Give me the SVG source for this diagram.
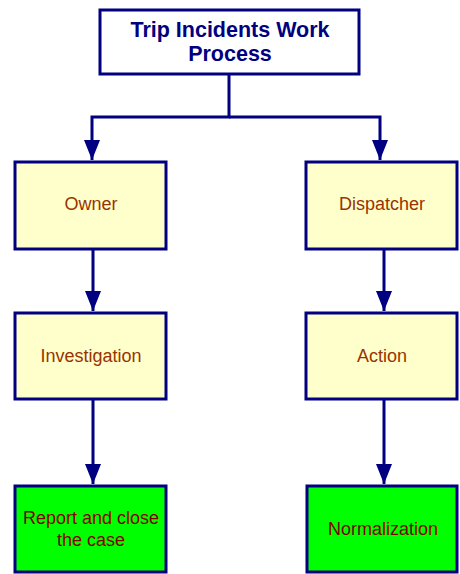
<svg xmlns="http://www.w3.org/2000/svg" width="460" height="574" viewBox="0 0 460 574">
  <style>
    .box { stroke: #000080; stroke-width: 3; }
    .title { fill: #ffffff; }
    .step { fill: #ffffcc; }
    .end { fill: #00ff00; }
    .wire { fill: none; stroke: #000080; stroke-width: 3; }
    text { font-family: "Liberation Sans", Arial, sans-serif; text-anchor: middle; }
    .ttl { font-size: 21.5px; font-weight: bold; fill: #000080; }
    .lbl { font-size: 18px; fill: #993300; }
    .lbl2 { font-size: 18px; fill: #800000; }
  </style>
  <defs>
    <marker id="arrow" markerUnits="userSpaceOnUse" markerWidth="20" markerHeight="22" refX="20" refY="8" orient="auto">
      <path d="M0,0 L20,8 L0,16 Z" fill="#000080"/>
    </marker>
  </defs>

  <g id="connectors">
    <path class="wire" d="M229,74 V117 H92 V160" marker-end="url(#arrow)"/>
    <path class="wire" d="M229,117 H380 V160" marker-end="url(#arrow)"/>
    <path class="wire" d="M93,249 V311" marker-end="url(#arrow)"/>
    <path class="wire" d="M384,249 V311" marker-end="url(#arrow)"/>
    <path class="wire" d="M93,399 V484" marker-end="url(#arrow)"/>
    <path class="wire" d="M384,399 V484" marker-end="url(#arrow)"/>
  </g>

  <g id="title">
    <rect class="box title" x="100" y="10" width="259" height="64"/>
    <text class="ttl" x="230" y="37">Trip Incidents Work</text>
    <text class="ttl" x="230" y="61">Process</text>
  </g>

  <g id="owner">
    <rect class="box step" x="15" y="162" width="151" height="87"/>
    <text class="lbl" x="91" y="210">Owner</text>
  </g>

  <g id="dispatcher">
    <rect class="box step" x="306" y="162" width="151" height="87"/>
    <text class="lbl" x="382" y="210">Dispatcher</text>
  </g>

  <g id="investigation">
    <rect class="box step" x="15" y="313" width="151" height="86"/>
    <text class="lbl" x="91" y="362">Investigation</text>
  </g>

  <g id="action">
    <rect class="box step" x="306" y="313" width="151" height="86"/>
    <text class="lbl" x="382" y="362">Action</text>
  </g>

  <g id="report">
    <rect class="box end" x="15" y="486" width="151" height="86"/>
    <text class="lbl2" x="91" y="524">Report and close</text>
    <text class="lbl2" x="91" y="546">the case</text>
  </g>

  <g id="normalization">
    <rect class="box end" x="307" y="486" width="150" height="86"/>
    <text class="lbl2" x="383" y="535">Normalization</text>
  </g>
</svg>
